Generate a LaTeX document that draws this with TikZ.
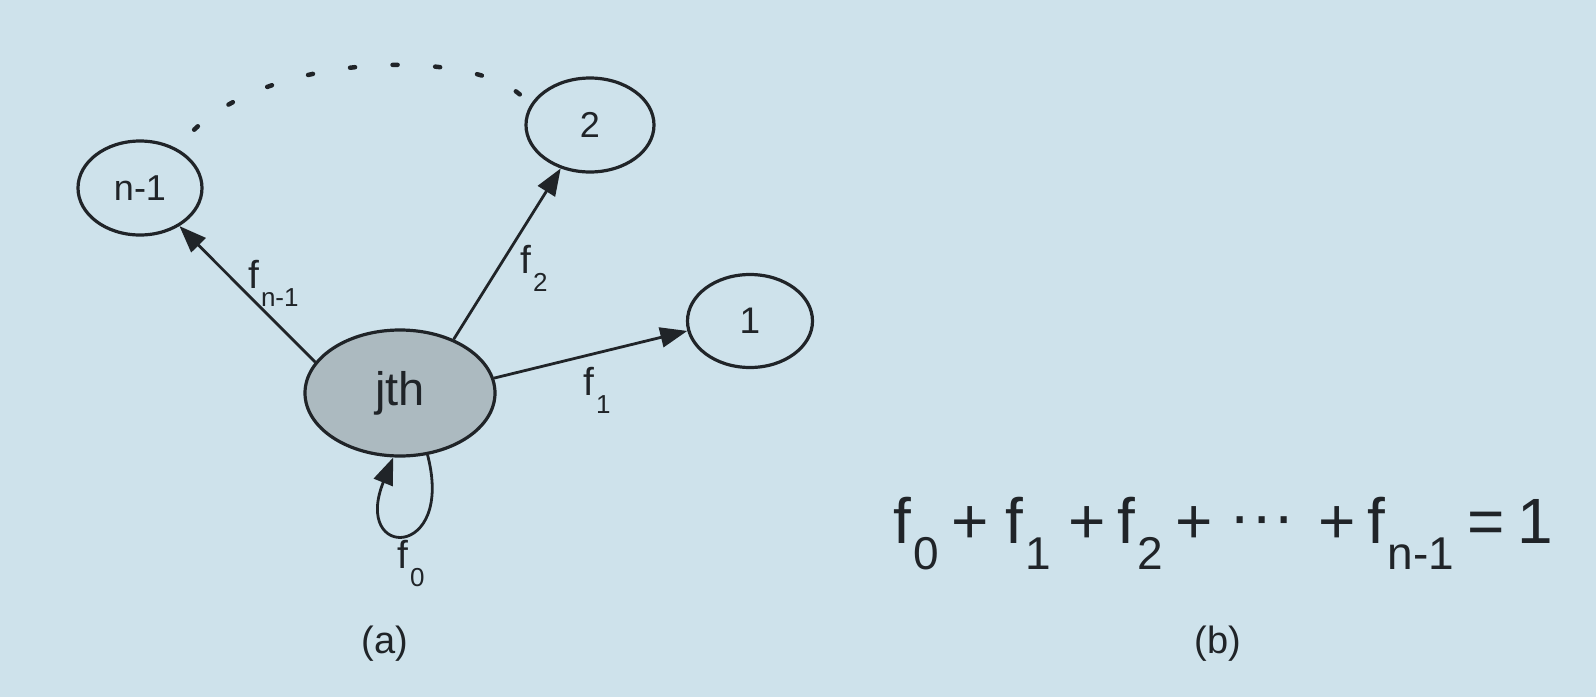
\documentclass[tikz,border=0pt]{standalone}
\usepackage{fontspec}
\setmainfont{Liberation Sans}
\usetikzlibrary{arrows.meta,decorations.markings,shapes.geometric}
\definecolor{bgc}{RGB}{206,226,235}
\definecolor{ink}{RGB}{32,36,40}
\definecolor{shade}{RGB}{172,186,192}
\newcommand\fsz[1]{\fontsize{#1}{#1}\selectfont}
\newcommand\fl[1]{f\kern2pt\raisebox{-18pt}{\fsz{26}#1}}
\newcommand\fe[1]{f\kern3pt\raisebox{-26pt}{\fsz{46}#1}}
\begin{document}
\begin{tikzpicture}[x=1pt,y=-1pt,
  stnode/.style={ellipse,draw=ink,line width=3.2pt,inner sep=0pt,text=ink},
  arr/.style={draw=ink,line width=2.8pt,-{Triangle[length=27pt,width=20pt]}},
  lbl/.style={inner sep=0pt,anchor=base west,text=ink,font=\fsz{39}},
  captext/.style={inner sep=0pt,text=ink,font=\fsz{38}},
  dotarc/.style={decoration={markings,
      mark=between positions 0 and 1 step 0.1249 with {\draw[ink,line width=4.5pt,line cap=round] (-2.5pt,0) -- (2.5pt,0);}},
      decorate}
  ]
\fill[bgc] (0,0) rectangle (1596,697);
\useasboundingbox (0,0) rectangle (1596,697);

\node[stnode,fill=shade,minimum width=190pt,minimum height=126pt,font=\fsz{47}] (jth) at (400,393) {jth};
\node[stnode,minimum width=124pt,minimum height=94pt,font=\fsz{36}] (n1) at (140,188) {n-1};
\node[stnode,minimum width=128pt,minimum height=94pt,font=\fsz{36}] (two) at (590,125) {2};
\node[stnode,minimum width=125pt,minimum height=93pt,font=\fsz{37}] (one) at (750,321) {1};

\draw[arr] (jth.160) -- (n1.-44);
\draw[arr] (jth.45) -- (two.-124);
\draw[arr] (jth.9) -- (one.189);
\draw[arr] (jth.-66) .. controls (455,560) and (352,560) .. (jth.-96);

\coordinate (ds) at (196,128);
\coordinate (de) at (518,93);
\path[dotarc] (ds) .. controls (275,55) and (460,48) .. (de);

\node[lbl] (lfn) at (248,288) {\fl{n-1}};
\node[lbl] (lf2) at (520,273) {\fl{2}};
\node[lbl] (lf1) at (583,395) {\fl{1}};
\node[lbl] (lf0) at (397,568) {\fl{0}};

\node[inner sep=0pt,anchor=base west,text=ink,font=\fsz{64}] (eq) at (893,543)
 {\makebox[58pt][l]{\fe{0}}\makebox[54pt][l]{+}\makebox[63pt][l]{\fe{1}}\makebox[49pt][l]{+}\makebox[58pt][l]{\fe{2}}\makebox[58pt][l]{+}\makebox[85pt][l]{\kern-4pt\raisebox{6pt}{\makebox[22pt][l]{·}\makebox[22pt][l]{·}·}}\makebox[49pt][l]{+}\makebox[100pt][l]{\fe{n-1}}\makebox[50pt][l]{=}1};

\node[captext] (ca) at (385,644) {(a)};
\node[captext] (cb) at (1218,644) {(b)};
\end{tikzpicture}
\end{document}
